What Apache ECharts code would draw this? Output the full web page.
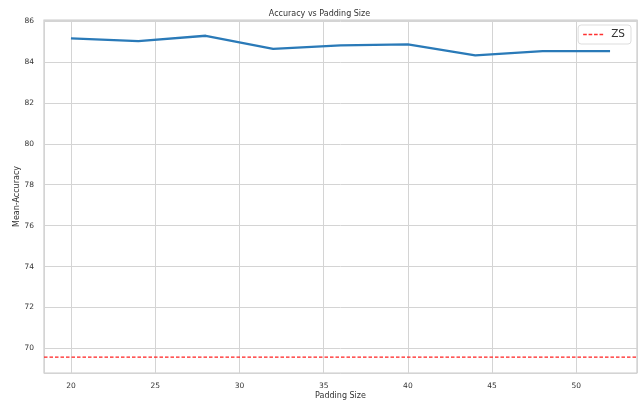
<!DOCTYPE html>
<html>
<head>
<meta charset="utf-8">
<script src="https://cdn.jsdelivr.net/npm/echarts@6/dist/echarts.min.js"></script>
<style>
html,body{margin:0;padding:0;background:#fff;}
#chart{width:639px;height:402px;}
</style>
</head>
<body>
<div id="chart"></div>
<script>
// Data
const paddingSizes = [20, 24, 28, 32, 36, 40, 44, 48, 52];
const meanAccuracy = [85.15, 85.02, 85.28, 84.64, 84.81, 84.86, 84.32, 84.53, 84.53];
const zsAccuracy = 69.58;
const xRange = [18.4, 53.6];
const yRange = [68.8, 86.05];

const chart = echarts.init(document.getElementById('chart'), null, {renderer: 'canvas'});
const font = 'DejaVu Sans';
const dashIcon = 'path://M0,0h4v1.4h-4z M6,0h4v1.4h-4z M12,0h4v1.4h-4z M18,0h4v1.4h-4z';
const option = {
  animation: false,
  backgroundColor: '#ffffff',
  title: {
    text: 'Accuracy vs Padding Size',
    left: 'center',
    top: 5,
    textStyle: {fontFamily: font, fontSize: 8, fontWeight: 'normal', color: '#333'}
  },
  legend: {
    data: [{name: 'ZS', icon: dashIcon}],
    right: 8,
    top: 25,
    orient: 'vertical',
    backgroundColor: '#ffffff',
    borderColor: '#dddddd',
    borderWidth: 1,
    borderRadius: 3,
    padding: [4, 6, 4, 5],
    itemWidth: 20,
    itemHeight: 1.4,
    itemGap: 4,
    itemStyle: {color: '#ff3030'},
    textStyle: {fontFamily: font, fontSize: 10.5, color: '#333', padding: [0, 0, 0, 3]}
  },
  grid: {
    left: 44,
    right: 2,
    top: 20,
    bottom: 29,
    show: true,
    borderColor: '#cccccc',
    borderWidth: 1.2,
    containLabel: false,
    outerBoundsMode: 'none'
  },
  xAxis: {
    type: 'value',
    min: xRange[0],
    max: xRange[1],
    splitNumber: 7,
    name: 'Padding Size',
    nameLocation: 'middle',
    nameGap: 19,
    nameMoveOverlap: false,
    nameTextStyle: {fontFamily: font, fontSize: 8, color: '#333'},
    axisLine: {show: false},
    axisTick: {show: false},
    axisLabel: {
      fontFamily: font, fontSize: 7.5, color: '#333', margin: 9,
      showMinLabel: false, showMaxLabel: false,
      formatter: v => (Math.abs(v % 5) < 1e-6 ? String(Math.round(v)) : '')
    },
    splitLine: {show: true, lineStyle: {color: '#d4d4d4', width: 1}}
  },
  yAxis: {
    type: 'value',
    min: yRange[0],
    max: yRange[1],
    splitNumber: 8,
    name: 'Mean-Accuracy',
    nameLocation: 'middle',
    nameGap: 23,
    nameMoveOverlap: false,
    nameTextStyle: {fontFamily: font, fontSize: 8, color: '#333'},
    axisLine: {show: false},
    axisTick: {show: false},
    axisLabel: {
      fontFamily: font, fontSize: 7.5, color: '#333', margin: 10,
      showMinLabel: false, showMaxLabel: false,
      formatter: v => (Math.abs(v % 2) < 1e-6 ? String(Math.round(v)) : '')
    },
    splitLine: {show: true, lineStyle: {color: '#d4d4d4', width: 1}}
  },
  series: [
    {
      name: 'Accuracy',
      type: 'line',
      data: paddingSizes.map((x, i) => [x, meanAccuracy[i]]),
      symbol: 'none',
      lineStyle: {color: '#2a7ab8', width: 2.3},
      itemStyle: {color: '#2a7ab8'},
      z: 3
    },
    {
      name: 'ZS',
      type: 'line',
      data: [[xRange[0], zsAccuracy], [xRange[1], zsAccuracy]],
      symbol: 'none',
      lineStyle: {color: '#ff2020', width: 1.2, type: [3.5, 2]},
      itemStyle: {color: '#ff2020'},
      z: 2
    }
  ]
};
chart.setOption(option);
</script>
</body>
</html>
